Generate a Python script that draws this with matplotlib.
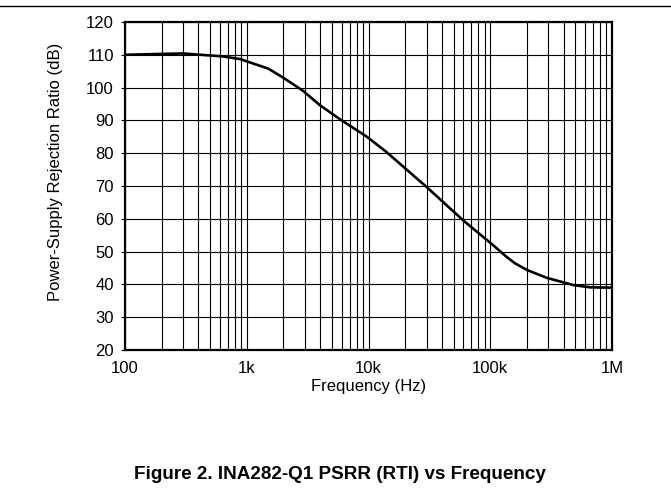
import matplotlib
matplotlib.use("Agg")
import matplotlib.pyplot as plt
from matplotlib.ticker import FixedLocator, NullFormatter, LogLocator

plt.rcParams['font.family'] = ['Liberation Sans', 'DejaVu Sans']

# PSRR curve
freq_hz = [100, 165, 300, 640, 880, 1000, 1500, 2000, 2900, 4000, 5800,
           9700, 14000, 24900, 30000, 60000, 106000, 136000, 160000,
           200000, 291000, 480000, 660000, 1000000]
psrr_db = [110.0, 110.2, 110.4, 109.5, 108.7, 108.0, 105.8, 103.0, 99.0,
           94.6, 90.4, 85.0, 80.4, 72.3, 69.7, 59.5, 51.9, 48.4, 46.4,
           44.4, 42.0, 39.8, 39.1, 39.0]

x_ticks = [100, 1e3, 1e4, 1e5, 1e6]
x_labels = ['100', '1k', '10k', '100k', '1M']
y_ticks = list(range(20, 121, 10))

fig = plt.figure(figsize=(6.71, 4.91), dpi=100)
ax = fig.add_axes([0.1863, 0.2872, 0.7258, 0.668])

ax.plot(freq_hz, psrr_db, color='black', lw=1.9, solid_capstyle='round',
        solid_joinstyle='round')

ax.set_xscale('log')
ax.set_xlim(100, 1e6)
ax.set_ylim(20, 120)
ax.xaxis.set_major_locator(FixedLocator(x_ticks))
ax.set_xticklabels(x_labels)
ax.xaxis.set_minor_locator(LogLocator(base=10, subs=range(2, 10)))
ax.xaxis.set_minor_formatter(NullFormatter())
ax.set_yticks(y_ticks)

ax.grid(True, which='major', color='black', lw=0.8)
ax.grid(True, which='minor', axis='x', color='black', lw=0.8)

for s in ax.spines.values():
    s.set_linewidth(1.6)

ax.tick_params(axis='x', which='both', length=0, pad=8, labelsize=12)
ax.tick_params(axis='y', which='major', length=3, width=0.8, direction='out',
               pad=5, labelsize=12)

ax.set_xlabel('Frequency (Hz)', fontsize=12, labelpad=2)
ax.set_ylabel('Power-Supply Rejection Ratio (dB)', fontsize=12)
ax.yaxis.set_label_coords(-0.128, 0.543)

# top rule and caption
fig.add_artist(plt.Line2D([0, 1], [0.987, 0.987], color='black', lw=1.0,
                          transform=fig.transFigure))
fig.text(0.507, 0.033, 'Figure 2. INA282-Q1 PSRR (RTI) vs Frequency',
         ha='center', va='center', fontsize=13.6, fontweight='bold')

fig.savefig('out.png', dpi=100)
